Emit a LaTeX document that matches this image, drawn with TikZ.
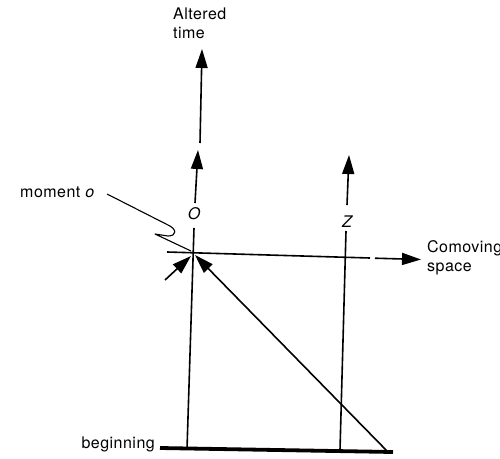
\documentclass[tikz,border=0pt]{standalone}
\usepackage{fontspec}
\setmainfont[LetterSpace=3]{TeX Gyre Heros}
\usetikzlibrary{arrows.meta}
\begin{document}
\begin{tikzpicture}[x=1pt,y=-1pt,
  lbl/.style={font=\fontsize{16}{19}\selectfont, inner sep=0pt, align=left},
  ln/.style={line width=1.6pt, black},
  tipped/.style={ln, -{Triangle[length=19pt,width=12pt]}}]
\useasboundingbox (0,0) rectangle (500,458);
% coordinates
\coordinate (t1s) at (200,143); \coordinate (t1e) at (202,49);
\coordinate (t2s) at (195,203); \coordinate (t2e) at (198,150);
\coordinate (ot) at (194,228);  \coordinate (ob) at (187,449);
\coordinate (z1s) at (347,205); \coordinate (z1e) at (349,155);
\coordinate (zt) at (346,231);  \coordinate (zb) at (340,450);
\coordinate (hs) at (167,252);  \coordinate (he) at (370,258);
\coordinate (ds) at (375,258.2); \coordinate (de) at (421,259.5);
\coordinate (bs) at (160,448);  \coordinate (be) at (393,452);
\coordinate (diagS) at (388,452); \coordinate (diagE) at (195,255);
\coordinate (lS) at (165,280);  \coordinate (lE) at (191,256);
\coordinate (ws) at (107,194);  \coordinate (we) at (191,251);
% labels
\node[lbl, anchor=north west] (alt) at (173,8) {Altered\\time};
\node[lbl, anchor=center] (o) at (194,214) {\itshape O};
\node[lbl, anchor=center] (z) at (347,222) {\itshape Z};
\node[lbl, anchor=base west] (mom) at (20,197) {moment \itshape o};
\node[lbl, anchor=north west] (com) at (427,240) {Comoving\\space};
\node[lbl, anchor=base east] (beg) at (155,448) {beginning};
% lines
\draw[tipped] (t1s) -- (t1e);
\draw[tipped] (t2s) -- (t2e);
\draw[ln] (ot) -- (ob);
\draw[tipped] (z1s) -- (z1e);
\draw[ln] (zt) -- (zb);
\draw[ln] (hs) -- (he);
\draw[tipped] (ds) -- (de);
\draw[line width=3.8pt] (bs) -- (be);
\draw[tipped] (diagS) -- (diagE);
\draw[tipped] (lS) -- (lE);
\draw[ln, line width=1.1pt, line join=round] (ws) -- (168,225) .. controls (177,229) and (177,236) .. (168,236)
   -- (155,234) -- (we);
\end{tikzpicture}
\end{document}
